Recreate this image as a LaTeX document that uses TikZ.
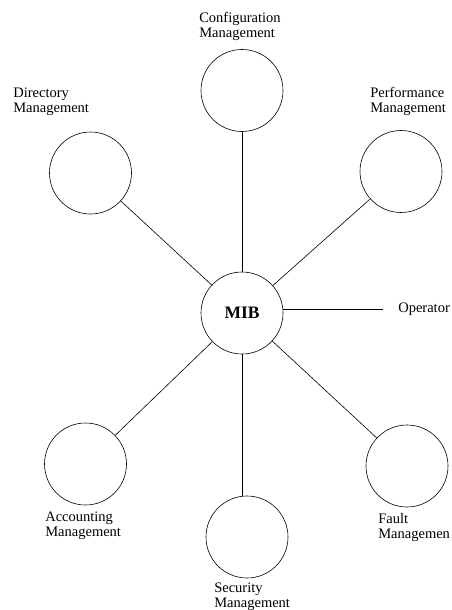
\documentclass[tikz,border=0pt]{standalone}
\usepackage{fontspec}
\setmainfont{Liberation Serif}
\usetikzlibrary{calc}

\begin{document}
\begin{tikzpicture}[x = 1pt, y = -1pt, line width = .6pt,
    area/.style = {circle, draw, minimum size = 82pt, inner sep = 0pt},
    lbl/.style = {anchor = base west, align = left, inner sep = 0pt, font = \fontsize{14.5}{15}\selectfont}]
    \useasboundingbox (0, 0) rectangle (451, 610);

    % the MIB in the middle
    \node [area, font = \fontsize{17.5}{18}\selectfont\bfseries] (mib) at (242, 313) {MIB};

    % management areas round it
    \node [area] (conf)  at (242, 90.5)  {};
    \node [area] (dir)   at (90.5, 173)  {};
    \node [area] (perf)  at (401, 171.5) {};
    \node [area] (acct)  at (85.5, 464)  {};
    \node [area] (sec)   at (247, 537)   {};
    \node [area] (fault) at (407, 466)   {};

    % labels (base = last line)
    \node [lbl] (confl)  at (199, 37.5) {Configuration\\Management};
    \node [lbl] (dirl)   at (13, 112)   {Directory\\Management};
    \node [lbl] (perfl)  at (370, 112)  {Performance\\Management};
    \node [lbl] (acctl)  at (45, 536)   {Accounting\\Management};
    \node [lbl] (secl)   at (214, 607)  {Security\\Management};
    \node [lbl] (faultl) at (378, 538)  {Fault\\Managemen};

    % operator
    \node [lbl] (opr) at (398, 312.7) {Operator};
    \coordinate (opend) at (383, 309.3);

    \draw (mib) -- (conf);
    \draw (mib) -- (dir);
    \draw (mib) -- (perf);
    \draw (mib) -- (acct);
    \draw (mib) -- (mib |- sec.north);
    \draw (mib) -- (fault);
    \draw (mib.east |- opend) -- (opend);

\end{tikzpicture}
\end{document}
